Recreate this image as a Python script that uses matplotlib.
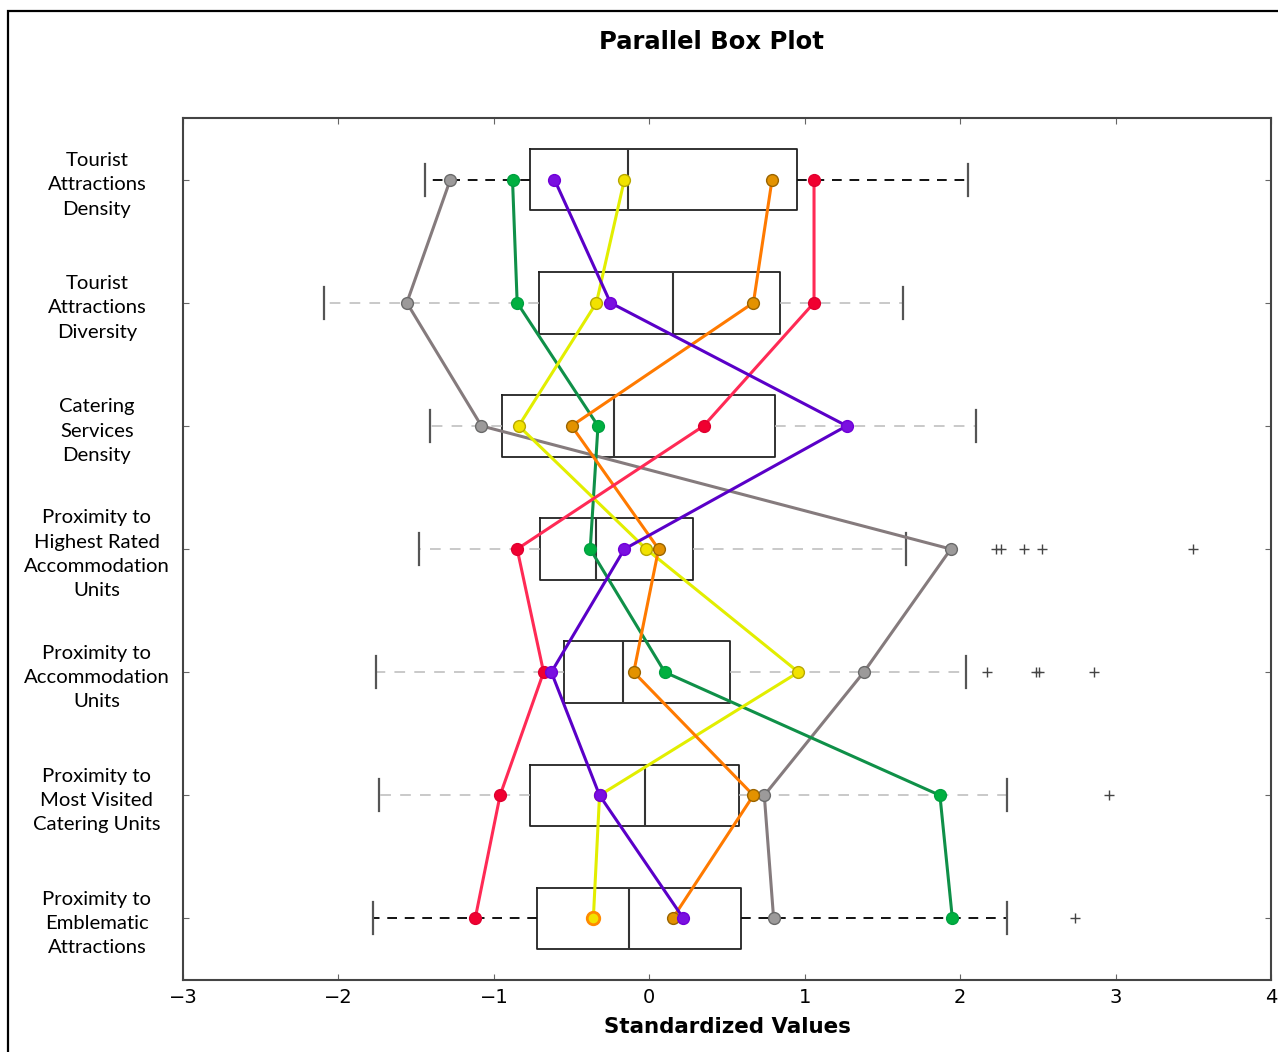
import matplotlib
matplotlib.use('Agg')
import matplotlib.pyplot as plt
from matplotlib.patches import Rectangle

# categories (top to bottom)
labels = [
    'Tourist\nAttractions\nDensity',
    'Tourist\nAttractions\nDiversity',
    'Catering\nServices\nDensity',
    'Proximity to\nHighest Rated\nAccommodation\nUnits',
    'Proximity to\nAccommodation\nUnits',
    'Proximity to\nMost Visited\nCatering Units',
    'Proximity to\nEmblematic\nAttractions',
]

# box statistics
whis_lo = [-1.44, -2.09, -1.41, -1.48, -1.76, -1.74, -1.78]
q1 = [-0.77, -0.71, -0.95, -0.70, -0.55, -0.77, -0.72]
median = [-0.14, 0.15, -0.23, -0.34, -0.17, -0.03, -0.13]
q3 = [0.95, 0.84, 0.81, 0.28, 0.52, 0.58, 0.59]
whis_hi = [2.05, 1.63, 2.10, 1.65, 2.04, 2.30, 2.30]
outliers = [[], [], [], [2.23, 2.26, 2.41, 2.53, 3.50], [2.17, 2.49, 2.51, 2.86], [2.96], [2.74]]

# individual profiles
gray = [-1.28, -1.56, -1.08, 1.94, 1.38, 0.74, 0.80]
green = [-0.88, -0.85, -0.33, -0.38, 0.10, 1.87, 1.95]
yellow = [-0.16, -0.34, -0.84, -0.02, 0.96, -0.32, -0.36]
orange = [0.79, 0.67, -0.50, 0.06, -0.10, 0.67, 0.15]
red = [1.06, 1.06, 0.35, -0.85, -0.68, -0.96, -1.12]
purple = [-0.61, -0.25, 1.27, -0.16, -0.63, -0.32, 0.22]

series = [
    (gray, '#857b7d', '#9c9a9a', '#6a6a6a'),
    (green, '#0f9048', '#00b040', '#00a040'),
    (yellow, '#e2ee00', '#f2e200', '#b8a800'),
    (orange, '#ff7a00', '#e39200', '#9a6400'),
    (red, '#ff2a55', '#f00030', '#e00030'),
    (purple, '#5a00c8', '#7a10e0', '#7000d8'),
]

positions = list(range(1, len(labels) + 1))

fig = plt.figure(figsize=(12.78, 10.52), dpi=100)
ax = fig.add_axes([0.1432, 0.0684, 0.8513, 0.8194])

stats = []
for i in range(len(labels)):
    stats.append({'whislo': whis_lo[i], 'q1': q1[i], 'med': median[i],
                  'q3': q3[i], 'whishi': whis_hi[i], 'fliers': outliers[i]})

bp = ax.bxp(stats, positions=positions, orientation='horizontal', widths=0.5,
            capwidths=0.26, showfliers=True,
            boxprops=dict(color='#222222', linewidth=1.3),
            medianprops=dict(color='#333333', linewidth=1.5),
            capprops=dict(color='#555555', linewidth=1.6),
            whiskerprops=dict(color='#bbbbbb', linewidth=1.1, linestyle=(0, (7, 6))),
            flierprops=dict(marker='+', markeredgecolor='#444444', markersize=7,
                            markeredgewidth=1.0, linestyle='none'))

# first and last row have black whiskers
for row in (0, len(labels) - 1):
    for w in bp['whiskers'][2 * row:2 * row + 2]:
        w.set_color('#111111')
        w.set_linewidth(1.4)
        w.set_linestyle((0, (5, 4)))

for vals, lc, fc, ec in series:
    ax.plot(vals, positions, color=lc, linewidth=2.2, marker='o', markersize=8.5,
            markerfacecolor=fc, markeredgecolor=ec, markeredgewidth=1.0, zorder=4)

# yellow dot hidden under an orange ring in the last row
ax.plot(yellow[-1], positions[-1], 'o', markersize=9, markerfacecolor='#f2e200',
        markeredgecolor='#ff8a00', markeredgewidth=2.0, zorder=5)

ax.set_xlim(-3, 4)
ax.set_ylim(len(labels) + 0.5, 0.5)
ax.set_yticks(positions)
ax.set_yticklabels(labels, family='Lato', fontsize=14.6, ha='center', linespacing=1.52)
ax.tick_params(axis='y', pad=62, length=4, direction='in', right=True, color='#666666')
ax.tick_params(axis='x', labelsize=14, pad=6, length=4, direction='in', top=True,
               color='#666666')
ax.set_xticks(range(-3, 5))
ax.set_xticklabels(['\u22123', '\u22122', '\u22121', '0', '1', '2', '3', '4'])
for sp in ax.spines.values():
    sp.set_color('#444444')
    sp.set_linewidth(1.5)

ax.set_xlabel('Standardized Values', fontsize=15.4, fontweight='bold', labelpad=7)
fig.text(711 / 1278, 1 - 42 / 1052, 'Parallel Box Plot', fontsize=17.5,
         fontweight='bold', ha='center', va='center')

# outer frame of the original screenshot
fig.patches.append(Rectangle((8 / 1278, -0.05), 1.1, 1.05 - 11 / 1052,
                             transform=fig.transFigure, fill=False,
                             edgecolor='black', linewidth=1.6))

plt.savefig('out.png', dpi=100)
